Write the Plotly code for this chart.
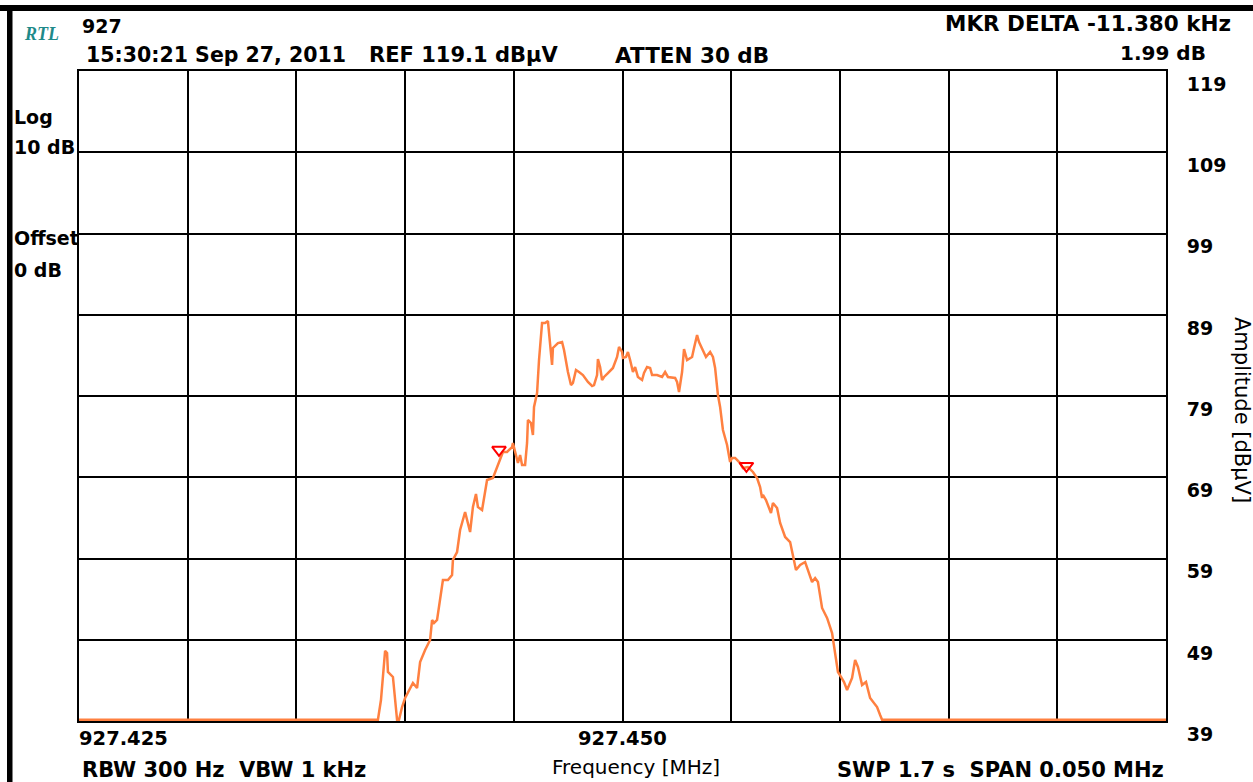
import plotly.graph_objects as go

# Spectrum analyser sweep: frequency (MHz) and level (dBµV)
freq_mhz = [
    927.42500, 927.43875, 927.43889, 927.43908, 927.43917, 927.43921, 927.43944, 927.43949,
    927.43963, 927.43972, 927.43986, 927.44000, 927.44036, 927.44055, 927.44069, 927.44092,
    927.44115, 927.44124, 927.44133, 927.44147, 927.44165, 927.44174, 927.44197, 927.44216,
    927.44220, 927.44239, 927.44253, 927.44276, 927.44299, 927.44312, 927.44326, 927.44335,
    927.44354, 927.44377, 927.44404, 927.44423, 927.44437, 927.44450, 927.44469, 927.44492,
    927.44496, 927.44510, 927.44519, 927.44529, 927.44538, 927.44552, 927.44561, 927.44565,
    927.44579, 927.44588, 927.44593, 927.44607, 927.44616, 927.44630, 927.44644, 927.44657,
    927.44667, 927.44676, 927.44680, 927.44703, 927.44722, 927.44731, 927.44749, 927.44763,
    927.44772, 927.44786, 927.44800, 927.44818, 927.44841, 927.44860, 927.44869, 927.44883,
    927.44887, 927.44897, 927.44906, 927.44915, 927.44933, 927.44956, 927.44975, 927.44984,
    927.44998, 927.45002, 927.45016, 927.45025, 927.45035, 927.45048, 927.45058, 927.45071,
    927.45090, 927.45099, 927.45113, 927.45127, 927.45136, 927.45159, 927.45182, 927.45196,
    927.45209, 927.45228, 927.45242, 927.45251, 927.45260, 927.45274, 927.45283, 927.45297,
    927.45320, 927.45329, 927.45343, 927.45352, 927.45366, 927.45384, 927.45403, 927.45416,
    927.45426, 927.45439, 927.45449, 927.45462, 927.45481, 927.45495, 927.45504, 927.45518,
    927.45541, 927.45554, 927.45577, 927.45600, 927.45619, 927.45633, 927.45642, 927.45646,
    927.45660, 927.45683, 927.45692, 927.45711, 927.45725, 927.45748, 927.45771, 927.45784,
    927.45798, 927.45817, 927.45840, 927.45853, 927.45872, 927.45886, 927.45899, 927.45918,
    927.45941, 927.45964, 927.45978, 927.45991, 927.46005, 927.46019, 927.46033, 927.46056,
    927.46070, 927.46083, 927.46102, 927.46120, 927.46139, 927.46171, 927.46185, 927.46194,
    927.47500,
]
level_dbuv = [
    39.25, 39.25, 41.68, 47.72, 47.47, 45.13, 44.52, 42.92,
    39.25, 39.25, 40.82, 41.93, 43.78, 43.16, 46.36, 47.84,
    49.07, 51.53, 51.16, 51.53, 55.22, 56.45, 56.45, 57.07,
    58.92, 59.90, 62.61, 64.82, 62.36, 65.44, 67.04, 65.44,
    65.07, 68.76, 69.01, 70.36, 71.47, 72.21, 72.21, 72.82,
    73.32, 71.59, 70.85, 71.84, 70.61, 70.61, 73.32, 76.15,
    75.78, 74.30, 77.75, 79.47, 83.53, 88.08, 88.08, 88.33,
    85.75, 82.92, 85.01, 85.62, 85.75, 84.76, 82.05, 80.45,
    80.70, 82.30, 82.05, 81.68, 80.82, 80.33, 80.45, 81.68,
    83.65, 82.67, 81.07, 81.44, 81.93, 82.55, 83.90, 85.13,
    84.52, 83.78, 83.90, 84.52, 83.53, 82.05, 82.67, 81.44,
    81.07, 81.93, 82.67, 82.55, 81.68, 81.68, 81.44, 82.05,
    81.44, 81.32, 81.32, 80.82, 79.59, 82.05, 84.88, 83.53,
    83.90, 85.01, 86.61, 85.75, 85.01, 83.90, 84.52, 83.90,
    82.55, 79.22, 77.75, 74.92, 73.07, 70.98, 71.47, 71.47,
    70.85, 70.24, 70.36, 69.75, 69.01, 67.90, 66.55, 66.92,
    66.30, 64.70, 65.93, 65.32, 63.47, 61.75, 61.13, 59.28,
    57.68, 58.30, 58.67, 57.68, 56.21, 56.70, 56.21, 53.01,
    51.78, 49.93, 47.47, 45.13, 44.52, 43.90, 42.92, 44.39,
    46.61, 45.75, 43.53, 43.90, 41.93, 40.82, 39.84, 39.25,
    39.25,
]

# Markers: reference marker and delta marker (-11.380 kHz, +1.99 dB)
ref_marker_mhz = 927.45570
ref_marker_db = 69.75
delta_khz = -11.380
delta_db = 1.99
marker_mhz = [ref_marker_mhz + delta_khz / 1000.0, ref_marker_mhz]
marker_db = [ref_marker_db + delta_db, ref_marker_db]

# Display settings
ref_level = 119.1
db_per_div = 10
n_ydiv = 8
start_mhz = 927.425
span_mhz = 0.050
n_xdiv = 10

y_tick_vals = [ref_level - db_per_div * i for i in range(n_ydiv + 1)]
y_tick_text = ["119", "109", "99", "89", "79", "69", "59", "49", "39"]
x_label_vals = [927.425, 927.450, 927.475]
x_label_text = ["927.425", "927.450", "927.475"]

W, H = 1253, 782
FONT = "DejaVu Sans"
TRACE_COLOR = "#FF8040"


def px(x):
    return x / W


def py(y):
    return 1 - y / H


fig = go.Figure()
fig.add_trace(go.Scatter(
    x=freq_mhz, y=level_dbuv, mode="lines",
    line=dict(color=TRACE_COLOR, width=2.5),
    hoverinfo="skip", showlegend=False,
))
# Marker triangles point down onto the trace, sitting just above it
fig.add_trace(go.Scatter(
    x=marker_mhz, y=marker_db, mode="markers",
    marker=dict(symbol="triangle-up-open", angle=180, standoff=6, size=12,
                color="#FF0000", line=dict(width=2, color="#FF0000")),
    hoverinfo="skip", showlegend=False,
))

bold = dict(family=FONT, size=19, color="black", weight="bold")
regular = dict(family=FONT, size=20, color="black")

ann = []


def text(x, y, s, xa="left", font=bold, **kw):
    ann.append(dict(x=px(x), y=py(y), xref="paper", yref="paper", text=s,
                    showarrow=False, xanchor=xa, yanchor="middle", font=font, **kw))


text(22, 34, "RTL", font=dict(family="Liberation Serif", size=18, color="#1E8A8A",
                              style="italic", weight="bold"))
text(80, 26, "927", font=dict(bold, size=19))
text(84, 55, "15:30:21 Sep 27, 2011", font=dict(bold, size=20.5))
text(367, 55, "REF 119.1 dBµV", font=dict(bold, size=21))
text(613, 55, "ATTEN 30 dB", font=dict(bold, size=21.5))
text(1233, 24, "MKR DELTA -11.380 kHz", xa="right", font=dict(bold, size=21.5))
text(1208, 53, "1.99 dB", xa="right", font=dict(bold, size=20))

text(12, 117, "Log")
text(12, 147, "10 dB")
text(12, 238, "Offset")
text(12, 270, "0 dB")

text(80, 770, "RBW 300 Hz\u00a0\u00a0VBW 1 kHz", font=dict(bold, size=21))
text(636, 767, "Frequency [MHz]", xa="center", font=regular)
text(1166, 770, "SWP 1.7 s\u00a0\u00a0SPAN 0.050 MHz", xa="right", font=dict(bold, size=21))
text(1242, 410, "Amplitude [dBµV]", xa="center", font=dict(regular, size=21), textangle=90)

# Frequency labels under the graticule
for v, s, anchor, shift in zip(x_label_vals, x_label_text, ["left", "center", "right"], [-2, 0, -41]):
    ann.append(dict(x=v, y=py(738), xref="x", yref="paper", text=s, showarrow=False,
                    xanchor=anchor, yanchor="middle", xshift=shift, font=dict(bold, size=19.5)))

# Instrument window frame
shapes = [
    dict(type="rect", xref="paper", yref="paper", x0=0, x1=1, y0=py(11), y1=py(5),
         fillcolor="black", line=dict(width=0), layer="above"),
    dict(type="rect", xref="paper", yref="paper", x0=px(7), x1=px(12.5), y0=0, y1=py(5),
         fillcolor="black", line=dict(width=0), layer="above"),
]

fig.update_layout(
    width=W, height=H, autosize=False,
    margin=dict(l=0, r=0, t=0, b=0),
    paper_bgcolor="white", plot_bgcolor="white",
    showlegend=False,
    annotations=ann, shapes=shapes,
    xaxis=dict(
        domain=[px(79), px(1166)],
        range=[start_mhz, start_mhz + span_mhz],
        tick0=start_mhz, dtick=span_mhz / n_xdiv,
        showticklabels=False, ticks="", automargin=False,
        showgrid=True, gridcolor="black", gridwidth=2,
        zeroline=False,
        showline=True, linecolor="black", linewidth=2, mirror=True,
    ),
    yaxis=dict(
        domain=[py(721), py(71)],
        range=[ref_level - db_per_div * n_ydiv, ref_level],
        tickvals=y_tick_vals, ticktext=y_tick_text,
        side="right", ticks="", ticklabelposition="outside bottom",
        ticklabelstandoff=15, automargin=False,
        tickfont=bold,
        showgrid=True, gridcolor="black", gridwidth=2,
        zeroline=False,
        showline=True, linecolor="black", linewidth=2, mirror=True,
    ),
)

fig.write_html("out.html", config={"responsive": False})
